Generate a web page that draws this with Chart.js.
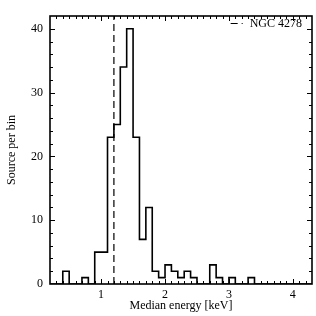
<!DOCTYPE html>
<html lang="en">
<head>
    <meta charset="utf-8">
    <title>Median energy histogram</title>
    <style>
        html, body { margin: 0; padding: 0; background: #fff; }
        #chartContainer { width: 316px; height: 316px; }
    </style>
</head>
<body>
<div id="chartContainer">
    <canvas id="myChart" width="316" height="316"></canvas>
</div>
<script src="https://cdn.jsdelivr.net/npm/chart.js@4.4.1/dist/chart.umd.min.js"></script>
<script type="text/javascript">
    // histogram bins, left edges in keV (width 0.1)
    var binEdges = [0.2, 0.3, 0.4, 0.5, 0.6, 0.7, 0.8, 0.9, 1.0, 1.1,
                    1.2, 1.3, 1.4, 1.5, 1.6, 1.7, 1.8, 1.9, 2.0, 2.1,
                    2.2, 2.3, 2.4, 2.5, 2.6, 2.7, 2.8, 2.9, 3.0, 3.1,
                    3.2, 3.3, 3.4, 3.5, 3.6, 3.7, 3.8, 3.9, 4.0, 4.1,
                    4.2, 4.3];
    var counts = [0, 0, 2, 0, 0, 1, 0, 5, 5, 23,
                  25, 34, 40, 23, 7, 12, 2, 1, 3, 2,
                  1, 2, 1, 0, 0, 3, 1, 0, 1, 0,
                  0, 1, 0, 0, 0, 0, 0, 0, 0, 0,
                  0, 0];
    var medianEnergy = 1.2;
    var legendLabel = 'NGC 4278';
    var xTicks = [1, 2, 3, 4];
    var yTicks = [0, 10, 20, 30, 40];
    var xRange = [0.2, 4.3];
    var yRange = [0, 42];

    var serif = '"Liberation Serif", "DejaVu Serif", serif';

    // Chart.js 'before' stepping: hold previous value, then jump at the next edge
    var histPoints = [];
    for (var i = 0; i < binEdges.length; i++) {
        histPoints.push({x: binEdges[i], y: counts[i]});
    }

    // frame, inward ticks on all four sides, and the legend inside the plot
    var framePlugin = {
        id: 'frame',
        afterDatasetsDraw: function (chart) {
            var c = chart.ctx, a = chart.chartArea;
            var xs = chart.scales.x, ys = chart.scales.y;
            c.save();
            c.strokeStyle = '#000';
            c.lineWidth = 1;
            c.beginPath();
            var v, px, len;
            for (v = 3; v <= 43; v++) {
                px = Math.round(xs.getPixelForValue(v / 10)) + 0.5;
                if (px < a.left + 1 || px > a.right - 1) continue;
                len = (v % 10 === 0) ? 5 : 3;
                c.moveTo(px, a.bottom); c.lineTo(px, a.bottom - len);
                c.moveTo(px, a.top); c.lineTo(px, a.top + len);
            }
            for (v = 2; v <= 42; v += 2) {
                px = Math.round(ys.getPixelForValue(v)) + 0.5;
                if (px < a.top + 1) continue;
                len = (v % 10 === 0) ? 5 : 3;
                c.moveTo(a.left, px); c.lineTo(a.left + len, px);
                c.moveTo(a.right, px); c.lineTo(a.right - len, px);
            }
            c.stroke();
            c.lineWidth = 1.6;
            c.strokeRect(a.left, a.top, a.right - a.left, a.bottom - a.top);

            // legend: dashed sample + label, top right
            var ds = chart.data.datasets[1];
            c.font = '12px ' + serif;
            c.fillStyle = '#000';
            c.textBaseline = 'middle';
            c.textAlign = 'right';
            var ly = a.top + 7.5;
            var tx = a.right - 10;
            c.fillText(ds.label, tx, ly);
            var tw = c.measureText(ds.label).width;
            c.beginPath();
            c.lineWidth = ds.borderWidth;
            c.setLineDash(ds.borderDash);
            c.moveTo(tx - tw - 19, ly);
            c.lineTo(tx - tw - 7, ly);
            c.stroke();
            c.restore();
        }
    };

    var ctx = document.getElementById('myChart');
    var chart = new Chart(ctx, {
        type: 'line',
        data: {
            datasets: [{
                label: 'hist',
                data: histPoints,
                stepped: 'before',
                borderColor: '#000',
                borderWidth: 1.6,
                pointRadius: 0,
                fill: false
            }, {
                label: legendLabel,
                data: [{x: medianEnergy, y: yRange[0]}, {x: medianEnergy, y: yRange[1]}],
                borderColor: '#000',
                borderWidth: 1.2,
                borderDash: [7, 4],
                pointRadius: 0,
                fill: false
            }]
        },
        options: {
            responsive: false,
            animation: false,
            layout: {padding: {top: 16, right: 4, left: 0, bottom: 0}},
            plugins: {
                tooltip: {enabled: false},
                legend: {display: false}
            },
            scales: {
                x: {
                    type: 'linear',
                    min: xRange[0],
                    max: xRange[1],
                    afterBuildTicks: function (s) { s.ticks = xTicks.map(function (t) { return {value: t}; }); },
                    afterFit: function (s) { s.height = 32; },
                    grid: {display: false, drawTicks: false},
                    border: {display: false},
                    ticks: {color: '#000', padding: 4, maxRotation: 0, font: {family: serif, size: 12}},
                    title: {
                        display: true,
                        text: 'Median energy [keV]',
                        color: '#000',
                        padding: {top: 0, bottom: 3},
                        font: {family: serif, size: 12}
                    }
                },
                y: {
                    min: yRange[0],
                    max: yRange[1],
                    afterBuildTicks: function (s) { s.ticks = yTicks.map(function (t) { return {value: t}; }); },
                    afterFit: function (s) { s.width = 50; },
                    grid: {display: false, drawTicks: false},
                    border: {display: false},
                    ticks: {color: '#000', padding: 7, font: {family: serif, size: 12}},
                    title: {
                        display: true,
                        text: 'Source per bin',
                        color: '#000',
                        padding: {top: 5, bottom: 0},
                        font: {family: serif, size: 12}
                    }
                }
            }
        },
        plugins: [framePlugin]
    });
</script>
</body>
</html>
